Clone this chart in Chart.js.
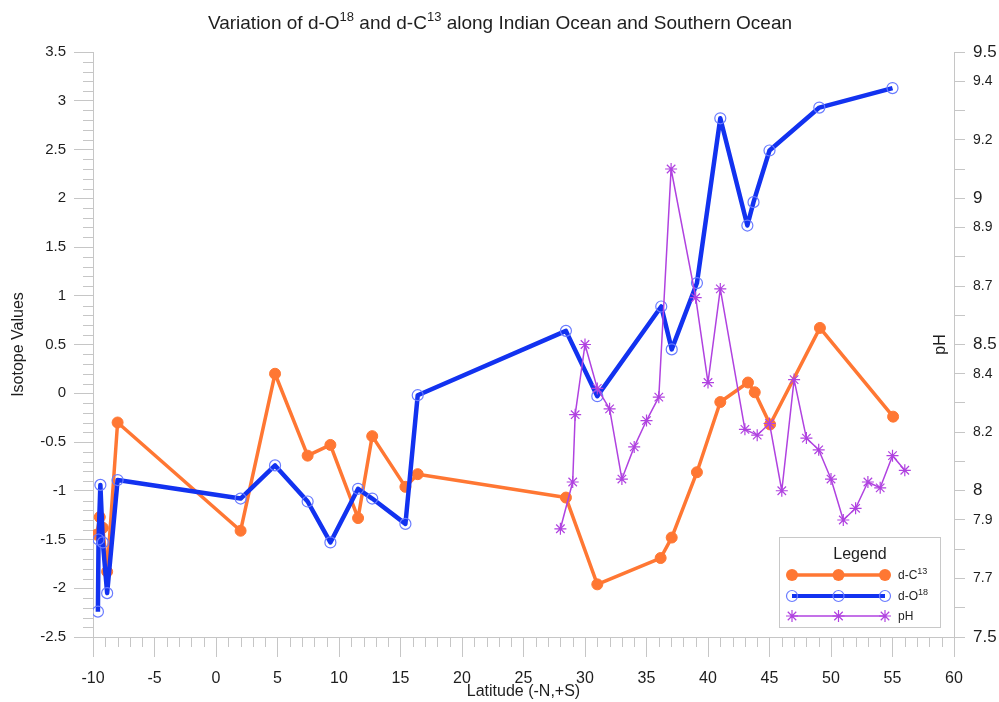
<!DOCTYPE html>
<html><head><meta charset="utf-8">
<script src="https://cdn.jsdelivr.net/npm/chart.js@4.4.0/dist/chart.umd.min.js"></script>
<style>html,body{margin:0;padding:0;background:#fff;overflow:hidden}#wrap{width:999px;height:702px;position:relative}</style>
</head><body><div id="wrap"><canvas id="c" width="999" height="702"></canvas></div>
<script>
// ---- data ----
const latC13 = [-9.7, -9.45, -9.2, -8.85, -8.0, 2.0, 4.8, 7.45, 9.3, 11.55, 12.7, 15.4, 16.4, 28.45, 31.0, 36.15, 37.05, 39.1, 41.0, 43.25, 43.8, 45.05, 49.1, 55.05];
const dC13   = [-1.45, -1.27, -1.38, -1.83, -0.30, -1.41, 0.20, -0.64, -0.53, -1.28, -0.44, -0.96, -0.83, -1.07, -1.96, -1.69, -1.48, -0.81, -0.09, 0.11, 0.01, -0.32, 0.67, -0.24];
const latO18 = [-9.6, -9.55, -9.4, -9.2, -8.85, -8.0, 2.0, 4.8, 7.45, 9.3, 11.55, 12.7, 15.4, 16.4, 28.45, 31.0, 36.2, 37.05, 39.1, 41.0, 43.2, 43.7, 45.0, 49.05, 55.0];
const dO18   = [-2.24, -1.50, -0.94, -1.53, -2.05, -0.89, -1.08, -0.74, -1.11, -1.53, -0.98, -1.08, -1.34, -0.02, 0.64, -0.03, 0.89, 0.45, 1.13, 2.82, 1.72, 1.96, 2.49, 2.93, 3.13];
const latPH  = [28, 29, 29.2, 30, 31, 32, 33, 34, 35, 36, 37, 39, 40, 41, 43, 44, 45, 46, 47, 48, 49, 50, 51, 52, 53, 54, 55, 56];
const pHvals = [7.87, 8.03, 8.26, 8.50, 8.35, 8.28, 8.04, 8.15, 8.24, 8.32, 9.10, 8.66, 8.37, 8.69, 8.21, 8.19, 8.23, 8.00, 8.38, 8.18, 8.14, 8.04, 7.90, 7.94, 8.03, 8.01, 8.12, 8.07];
const pHHiddenLabels = [9.3, 9.1, 8.8, 8.6, 8.3, 8.1, 7.8, 7.6];

const FONT = "'Liberation Sans', Arial, sans-serif";
const AX = '#c6c6c6';
const TXT = '#1e1e1e';
const C_ORANGE = '#ff7733', C_BLUE = '#1232f0', C_BLUE_PT = '#6a7cff', C_PURPLE = '#b042e0';

function pts(xs, ys){ return xs.map((x,i)=>({x:x, y:ys[i]})); }

function richText(ctx, parts, x, y, align){
  let w = 0;
  parts.forEach(p=>{ ctx.font = p.size + 'px ' + FONT; p.w = ctx.measureText(p.t).width; w += p.w; });
  let cx = align === 'center' ? x - w/2 : x;
  ctx.textAlign = 'left'; ctx.textBaseline = 'alphabetic';
  parts.forEach(p=>{ ctx.font = p.size + 'px ' + FONT; ctx.fillText(p.t, cx, y - (p.raise||0)); cx += p.w; });
}

function drawStar(ctx, x, y, r){
  ctx.beginPath();
  for (let k=0;k<4;k++){
    const a = k*Math.PI/4;
    ctx.moveTo(x - r*Math.cos(a), y - r*Math.sin(a));
    ctx.lineTo(x + r*Math.cos(a), y + r*Math.sin(a));
  }
  ctx.stroke();
}

const decor = {
  id: 'decor',
  afterDraw(chart){
    const ctx = chart.ctx;
    const xs = chart.scales.x, ys = chart.scales.y;
    ctx.save();
    // minor ticks
    ctx.strokeStyle = AX; ctx.lineWidth = 1;
    ctx.beginPath();
    for (let v=-10; v<=60; v++){
      if (v % 5 === 0) continue;
      const px = Math.round(xs.getPixelForValue(v)) + 0.5;
      ctx.moveTo(px, xs.top); ctx.lineTo(px, xs.top + 10);
    }
    for (let k=-25; k<=35; k++){
      if (k % 5 === 0) continue;
      const py = Math.round(ys.getPixelForValue(k/10)) + 0.5;
      ctx.moveTo(ys.right - 10, py); ctx.lineTo(ys.right, py);
    }
    ctx.stroke();

    // title
    ctx.fillStyle = TXT;
    richText(ctx, [
      {t:'Variation of d-O', size:19},
      {t:'18', size:13, raise:8},
      {t:' and d-C', size:19},
      {t:'13', size:13, raise:8},
      {t:' along Indian Ocean and Southern Ocean', size:19}
    ], 500, 29, 'center');

    // axis titles
    ctx.font = '16px ' + FONT; ctx.textAlign = 'center'; ctx.textBaseline = 'middle';
    ctx.fillText('Latitude (-N,+S)', (xs.left + xs.right)/2, 692);
    ctx.save(); ctx.translate(19, (ys.top + ys.bottom)/2); ctx.rotate(-Math.PI/2);
    ctx.fillText('Isotope Values', 0, 0); ctx.restore();
    ctx.save(); ctx.translate(941, (ys.top + ys.bottom)/2); ctx.rotate(-Math.PI/2);
    ctx.fillText('pH', 0, 0); ctx.restore();

    // legend
    const bx = 779.5, by = 537.5, bw = 161, bh = 90;
    ctx.fillStyle = '#fff'; ctx.fillRect(bx, by, bw, bh);
    ctx.strokeStyle = '#c8c8c8'; ctx.lineWidth = 1; ctx.strokeRect(bx, by, bw, bh);
    ctx.fillStyle = TXT; ctx.font = '16px ' + FONT; ctx.textAlign = 'center'; ctx.textBaseline = 'middle';
    ctx.fillText('Legend', bx + bw/2, 555);
    const lx = [792, 838.5, 885];
    ctx.lineJoin = 'round'; ctx.lineCap = 'butt';
    // d-C13
    let yy = 575;
    ctx.strokeStyle = C_ORANGE; ctx.lineWidth = 3.5;
    ctx.beginPath(); ctx.moveTo(lx[0], yy); ctx.lineTo(lx[2], yy); ctx.stroke();
    ctx.fillStyle = C_ORANGE;
    lx.forEach(x=>{ ctx.beginPath(); ctx.arc(x, yy, 6, 0, Math.PI*2); ctx.fill(); });
    ctx.fillStyle = TXT;
    richText(ctx, [{t:'d-C', size:12},{t:'13', size:9, raise:5}], 898, yy + 4, 'left');
    // d-O18
    yy = 596;
    ctx.strokeStyle = C_BLUE; ctx.lineWidth = 4;
    ctx.beginPath(); ctx.moveTo(lx[0], yy); ctx.lineTo(lx[2], yy); ctx.stroke();
    ctx.strokeStyle = C_BLUE_PT; ctx.lineWidth = 1.2;
    lx.forEach(x=>{ ctx.beginPath(); ctx.arc(x, yy, 5.5, 0, Math.PI*2); ctx.stroke(); });
    ctx.fillStyle = TXT;
    richText(ctx, [{t:'d-O', size:12},{t:'18', size:9, raise:5}], 898, yy + 4, 'left');
    // pH
    yy = 616;
    ctx.strokeStyle = C_PURPLE; ctx.lineWidth = 1.5;
    ctx.beginPath(); ctx.moveTo(lx[0], yy); ctx.lineTo(lx[2], yy); ctx.stroke();
    ctx.lineWidth = 1.2;
    lx.forEach(x=>drawStar(ctx, x, yy, 6));
    ctx.fillStyle = TXT;
    richText(ctx, [{t:'pH', size:12}], 898, yy + 4, 'left');
    ctx.restore();
  }
};

new Chart(document.getElementById('c'), {
  type: 'line',
  data: {
    datasets: [
      { label:'pH', data: pts(latPH, pHvals), yAxisID:'y1', order:0,
        borderColor:C_PURPLE, borderWidth:1.5, borderJoinStyle:'round', pointStyle:'star', pointRadius:6,
        pointBorderColor:C_PURPLE, pointBackgroundColor:C_PURPLE, pointBorderWidth:1.2, tension:0 },
      { label:'d-O18', data: pts(latO18, dO18), yAxisID:'y', order:1,
        borderColor:C_BLUE, borderWidth:4.5, borderJoinStyle:'round', pointStyle:'circle', pointRadius:5.5,
        pointBorderColor:C_BLUE_PT, pointBackgroundColor:'rgba(255,255,255,0)', pointBorderWidth:1.2, tension:0 },
      { label:'d-C13', data: pts(latC13, dC13), yAxisID:'y', order:2,
        borderColor:C_ORANGE, borderWidth:3.5, borderJoinStyle:'round', pointStyle:'circle', pointRadius:5.5,
        pointBorderColor:C_ORANGE, pointBackgroundColor:C_ORANGE, pointBorderWidth:1, tension:0 }
    ]
  },
  options: {
    responsive:false, animation:false, devicePixelRatio:1,
    layout:{ padding:{ top:52, left:0, right:0, bottom:0 } },
    plugins:{ legend:{display:false}, tooltip:{enabled:false}, title:{display:false} },
    scales:{
      x:{ type:'linear', position:'bottom', min:-10, max:60,
        afterFit(s){ s.height = 65; },
        border:{ display:true, color:AX, width:1 },
        grid:{ display:true, drawOnChartArea:false, drawTicks:true, tickLength:20, color:AX },
        ticks:{ stepSize:5, autoSkip:false, maxRotation:0, padding:12, color:TXT,
          font:{ family:FONT, size:16 }, callback:(v)=>String(Math.round(v)) } },
      y:{ type:'linear', position:'left', min:-2.5, max:3.5,
        afterFit(s){ s.width = 93; },
        border:{ display:true, color:AX, width:1 },
        grid:{ display:true, drawOnChartArea:false, drawTicks:true, tickLength:19, color:AX },
        ticks:{ stepSize:0.5, autoSkip:false, padding:8, color:TXT, font:{ family:FONT, size:15 },
          callback:(v)=>String(Math.round(v*10)/10) } },
      y1:{ type:'linear', position:'right', min:7.5, max:9.5,
        afterFit(s){ s.width = 45; },
        border:{ display:true, color:AX, width:1 },
        grid:{ display:true, drawOnChartArea:false, drawTicks:true, tickLength:11, color:AX },
        ticks:{ stepSize:0.1, autoSkip:false, padding:8, color:TXT,
          font:(c)=>{ const r = Math.round(((c.tick && c.tick.value) || 0)*10); return { family:FONT, size: (r % 5 === 0) ? 17 : 14 }; },
          callback:(v)=>{ const r = Math.round(v*10); if (pHHiddenLabels.some(h=>Math.round(h*10)===r)) return ''; return String(r/10); } } }
    }
  },
  plugins:[decor]
});
</script></body></html>
